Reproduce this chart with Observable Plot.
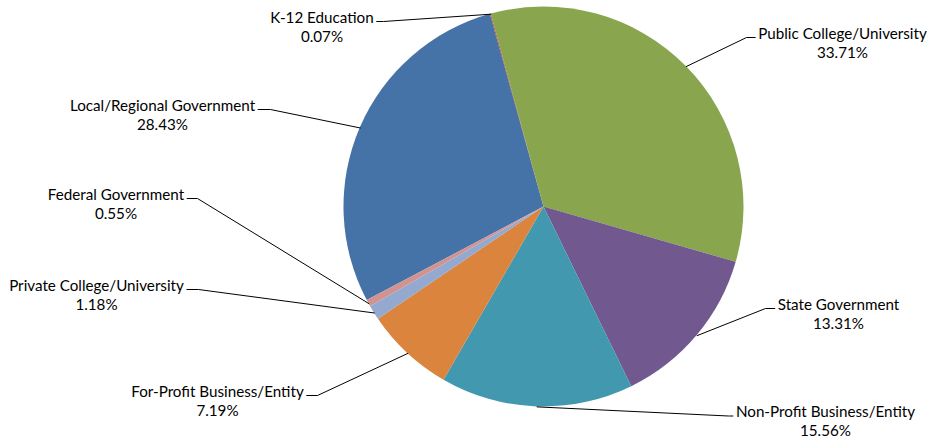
<!DOCTYPE html>
<html>
<head>
<meta charset="utf-8">
<script src="https://cdn.jsdelivr.net/npm/d3@7"></script>
<script src="https://cdn.jsdelivr.net/npm/@observablehq/plot@0.6"></script>
<style>
  html, body { margin: 0; padding: 0; background: #ffffff; }
  #chart { width: 929px; height: 444px; }
</style>
</head>
<body>
<div id="chart"></div>
<script>
// ---- Data ----
const categories = [
  "Local/Regional Government",
  "K-12 Education",
  "Public College/University",
  "State Government",
  "Non-Profit Business/Entity",
  "For-Profit Business/Entity",
  "Private College/University",
  "Federal Government"
];
const percents = [28.43, 0.07, 33.71, 13.31, 15.56, 7.19, 1.18, 0.55];
const sliceColors = ["#4572A7", "#AA4643", "#89A54E", "#71588F", "#4198AF", "#DB843D", "#93A9CF", "#D19392"];

// ---- Layout (not data) ----
const W = 929, H = 444;
const FONT = "Lato, 'Noto Sans', sans-serif";
const FONT_SIZE = 15.2;
const pieCenter = [543.5, 206.5];
const pieRadius = 200;
const startDeg = 242.1;
const labelCenterX = [162, 321.5, 842, 838, 825, 217, 96, 115.5];
const labelBaseline = [110, 22, 38, 309, 416.5, 396, 290, 199];
const elbowX = [270, 383, 746, 765, 728, 317, 198, 197];
const lineGap = 19;

// ---- Build ----
const pieGen = d3.pie().sort(null).value(d => d.value)
  .startAngle(startDeg * Math.PI / 180)
  .endAngle(startDeg * Math.PI / 180 + 2 * Math.PI);
const rows = categories.map((c, i) => ({category: c, value: percents[i]}));
const arcs = pieGen(rows);

const canvas = document.createElement("canvas");
const ctx = canvas.getContext("2d");
ctx.font = `${FONT_SIZE}px Lato`;

const labels = arcs.map((a, i) => {
  const mid = (a.startAngle + a.endAngle) / 2;
  const ax = pieCenter[0] + pieRadius * Math.sin(mid);
  const ay = pieCenter[1] - pieRadius * Math.cos(mid);
  const left = labelCenterX[i] < pieCenter[0];
  const w = ctx.measureText(a.data.category).width;
  const edge = left ? labelCenterX[i] + w / 2 + 3 : labelCenterX[i] - w / 2 - 3;
  const ty = labelBaseline[i] - 1;
  return {
    category: a.data.category,
    pct: a.data.value.toFixed(2) + "%",
    x: labelCenterX[i], y: labelBaseline[i],
    line: [[ax, ay], [elbowX[i], ty], [edge, ty]]
  };
});
const leader = labels.flatMap(l => l.line.map(([x, y]) => ({category: l.category, x, y})));

const slicesMark = (index, scales) => {
  const g = d3.create("svg:g");
  const arcGen = d3.arc().innerRadius(0).outerRadius(pieRadius);
  const tx = scales.x(pieCenter[0]), ty = scales.y(pieCenter[1]);
  const colorOf = scales.color ? scales.color : (c => sliceColors[categories.indexOf(c)]);
  g.attr("transform", `translate(${tx},${ty})`);
  g.selectAll("path").data(arcs).join("path")
    .attr("d", arcGen)
    .attr("fill", d => colorOf(d.data.category));
  return g.node();
};

const chart = Plot.plot({
  width: W, height: H,
  margin: 0,
  style: {background: "#ffffff", fontFamily: FONT, fontSize: FONT_SIZE + "px", color: "#000"},
  x: {domain: [0, W], range: [0, W], axis: null},
  y: {domain: [0, H], range: [0, H], axis: null},
  color: {domain: categories, range: sliceColors},
  marks: [
    slicesMark,
    Plot.line(leader, {x: "x", y: "y", z: "category", stroke: "#000", strokeWidth: 1}),
    Plot.text(labels, {x: "x", y: "y", text: "category", textAnchor: "middle", lineAnchor: "bottom", fill: "#000", fontSize: FONT_SIZE}),
    Plot.text(labels, {x: "x", y: d => d.y + lineGap, text: "pct", textAnchor: "middle", lineAnchor: "bottom", fill: "#000", fontSize: FONT_SIZE})
  ]
});
document.getElementById("chart").appendChild(chart);
</script>
</body>
</html>
